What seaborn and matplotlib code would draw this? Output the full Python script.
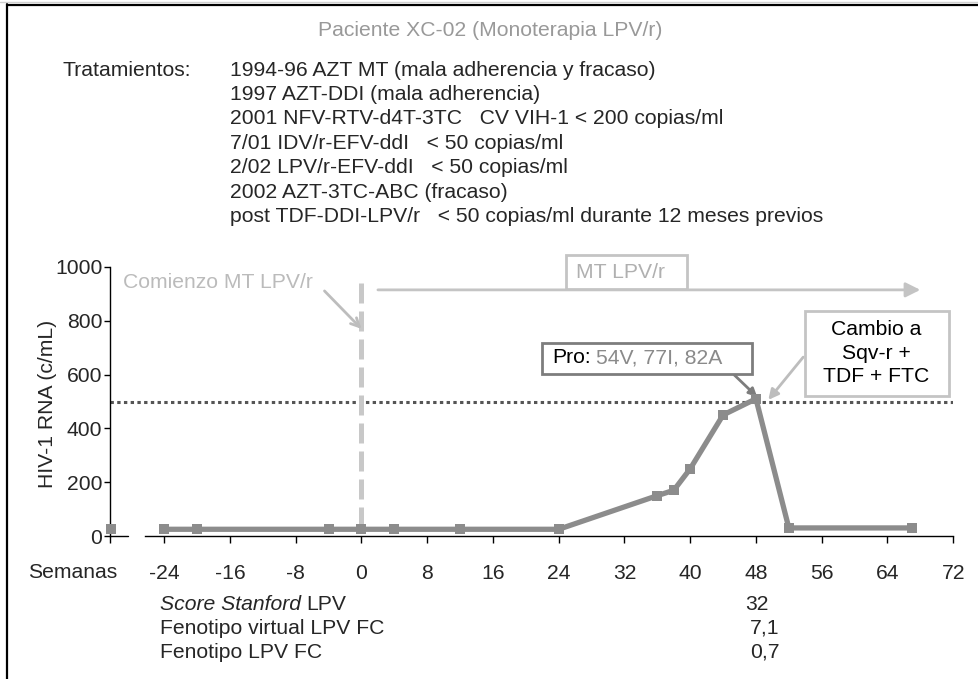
import numpy as np
import pandas as pd
import matplotlib
matplotlib.use("Agg")
import matplotlib.pyplot as plt
from matplotlib.lines import Line2D
from matplotlib.patches import Rectangle
import seaborn as sns

# Data
weeks = [-24, -20, -4, 0, 4, 12, 24, 36, 38, 40, 44, 48, 52, 67]
rna = [25, 25, 25, 25, 25, 25, 25, 150, 170, 250, 450, 510, 30, 30]
pre_week = [-30.5]
pre_rna = [25]
xticks = [-24, -16, -8, 0, 8, 16, 24, 32, 40, 48, 56, 64, 72]
yticks = [0, 200, 400, 600, 800, 1000]
threshold = 500
start_mt = 0

title = "Paciente XC-02 (Monoterapia LPV/r)"
treatments = [
    "1994-96 AZT MT (mala adherencia y fracaso)",
    "1997 AZT-DDI (mala adherencia)",
    "2001 NFV-RTV-d4T-3TC   CV VIH-1 < 200 copias/ml",
    "7/01 IDV/r-EFV-ddI   < 50 copias/ml",
    "2/02 LPV/r-EFV-ddI   < 50 copias/ml",
    "2002 AZT-3TC-ABC (fracaso)",
    "post TDF-DDI-LPV/r   < 50 copias/ml durante 12 meses previos",
]
table_labels = ["Fenotipo virtual LPV FC", "Fenotipo LPV FC"]
table_values = ["32", "7,1", "0,7"]

W, H = 979, 679
FS = 15.2
LINE = "#8c8c8c"
LIGHT = "#bdbdbd"

sns.set_theme(style="white")
plt.rcParams["font.family"] = ["Liberation Sans", "DejaVu Sans"]
plt.rcParams["axes.unicode_minus"] = False


def fx(x):
    return x / W


def fy(y):
    return 1 - y / H


fig = plt.figure(figsize=(W / 100, H / 100), dpi=100)
ax = fig.add_axes([fx(110), fy(536), 843.2 / W, 269 / H])

df = pd.DataFrame({"semana": weeks, "rna": rna})
sns.lineplot(data=df, x="semana", y="rna", ax=ax, color=LINE, lw=3.8,
             marker="s", markersize=7.5, markeredgewidth=0, clip_on=False, zorder=5)
sns.scatterplot(x=pre_week, y=pre_rna, ax=ax, color=LINE, marker="s", s=56,
                linewidth=0, clip_on=False, zorder=5)

# threshold and start of monotherapy
ax.axhline(threshold, color="#555555", lw=2.2, dashes=(1.1, 1.1), zorder=2)
ax.vlines(start_mt, 35, 940, color="#c8c8c8", lw=3.6, linestyles=(0, (4, 1.6)), zorder=3)

ax.set_xlim(-30.6, 72)
ax.set_ylim(0, 1000)
ax.set_xticks(xticks)
ax.set_xticks([-30.6], minor=True)
ax.set_yticks(yticks)
ax.tick_params(axis="x", which="both", direction="out", length=5, width=1,
               color="black", bottom=True, pad=15, labelsize=FS)
ax.tick_params(axis="y", direction="out", length=4, width=1, color="black",
               left=True, pad=1.5, labelsize=FS)
ax.set_xlabel("")
ax.set_ylabel("HIV-1 RNA (c/mL)", fontsize=FS)
ax.yaxis.set_label_coords(-0.063, 0.49)
for s in ["top", "right"]:
    ax.spines[s].set_visible(False)
for s in ["left", "bottom"]:
    ax.spines[s].set_color("black")
    ax.spines[s].set_linewidth(1)
ax.spines["bottom"].set_bounds(-26.3, 72)
ax.plot([-30.6, -28.4], [0, 0], color="black", lw=1, clip_on=False)

# annotations
ax.text(-29.0, 944, "Comienzo MT LPV/r", color="#bbbbbb", fontsize=FS,
        ha="left", va="center")
ax.annotate("", xy=(0, 770), xytext=(-4.5, 911),
            arrowprops=dict(arrowstyle="->", color=LIGHT, lw=2,
                            mutation_scale=15, shrinkA=0, shrinkB=0))
ax.annotate("", xy=(68, 915), xytext=(2, 915),
            arrowprops=dict(arrowstyle="-|>", color="#c4c4c4", lw=2,
                            mutation_scale=22, shrinkA=0, shrinkB=0))
ax.add_patch(Rectangle((24.88, 918.2), 14.73, 126.4, fc="white", ec="#c4c4c4",
                       lw=2, clip_on=False, zorder=4))
ax.text(26.1, 981, "MT LPV/r", color="#b0b0b0", fontsize=FS, ha="left", va="center",
        zorder=6)

ax.add_patch(Rectangle((21.96, 602.2), 25.56, 115.3, fc="white", ec="#7d7d7d",
                       lw=2, clip_on=False, zorder=4))
t_pro = ax.text(23.2, 662, "Pro:", color="black", fontsize=FS, ha="left", va="center",
                zorder=6)
ax.annotate("54V, 77I, 82A", xy=(1, 0), xycoords=t_pro, xytext=(4, 0),
            textcoords="offset points", va="bottom", ha="left", color="#8a8a8a",
            fontsize=FS, zorder=6)
ax.annotate("", xy=(48.15, 517), xytext=(45.35, 599),
            arrowprops=dict(arrowstyle="-|>", color="#7d7d7d", lw=2,
                            mutation_scale=12, shrinkA=0, shrinkB=0))

ax.add_patch(Rectangle((54.0, 520.4), 17.5, 316, fc="white", ec="#c4c4c4",
                       lw=2, clip_on=False, zorder=4))
ax.text(62.6, 680, "Cambio a\nSqv-r +\nTDF + FTC", color="black", fontsize=FS,
        ha="center", va="center", multialignment="center", linespacing=1.3, zorder=6)
ax.annotate("", xy=(49.5, 506), xytext=(53.75, 665),
            arrowprops=dict(arrowstyle="-|>", color=LIGHT, lw=2,
                            mutation_scale=15, shrinkA=0, shrinkB=0))

# header text
fig.text(fx(490), fy(30), title, color="#999999", fontsize=FS, ha="center", va="center")
fig.text(fx(63), fy(70), "Tratamientos:", fontsize=FS, ha="left", va="center")
for i, line in enumerate(treatments):
    fig.text(fx(230), fy(70 + 24.4 * i), line, fontsize=FS, ha="left", va="center")

# bottom table
fig.text(fx(73), fy(572), "Semanas", fontsize=FS, ha="center", va="center")
t_score = fig.text(fx(160), fy(604), "Score Stanford", fontsize=FS, style="italic",
                   ha="left", va="center")
ax.annotate("LPV", xy=(1, 0), xycoords=t_score, xytext=(4, 0), textcoords="offset points",
            va="bottom", ha="left", fontsize=FS, annotation_clip=False)
for i, lab in enumerate(table_labels):
    fig.text(fx(160), fy(628 + 24 * i), lab, fontsize=FS, ha="left", va="center")
for i, val in enumerate(table_values):
    fig.text(fx(757 if i == 0 else 765), fy(604 + 24 * i), val, fontsize=FS,
             ha="center", va="center")

# frame of the original figure
fig.add_artist(Line2D([fx(7.5), fx(7.5)], [fy(4), 0], color="black", lw=1.6))
fig.add_artist(Line2D([fx(7), 1], [fy(4.5), fy(4.5)], color="black", lw=1.6))
fig.add_artist(Line2D([0, 1], [fy(1.5), fy(1.5)], color="#d0d0d0", lw=1))

fig.savefig("out.png", dpi=100)
